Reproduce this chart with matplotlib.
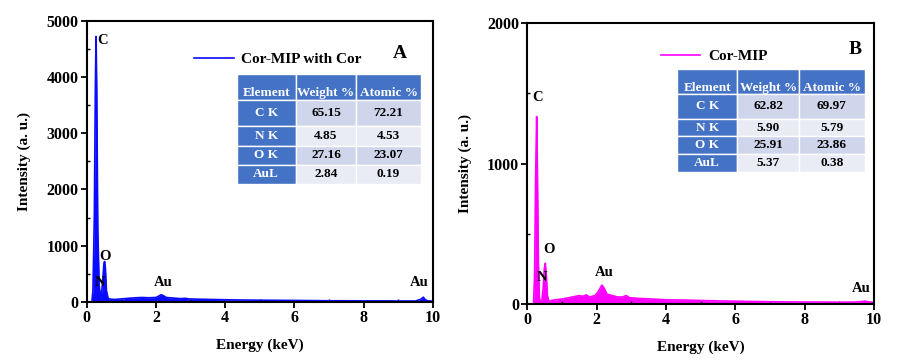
import matplotlib
matplotlib.use('Agg')
import matplotlib.pyplot as plt
from matplotlib.ticker import MultipleLocator

plt.rcParams['font.family'] = ['Liberation Serif', 'DejaVu Serif']
plt.rcParams['font.weight'] = 'bold'

# EDS spectrum, panel A (Cor-MIP with Cor)
energy_a = [0.0, 0.15, 0.18, 0.22, 0.25, 0.27, 0.29, 0.32, 0.36, 0.40, 0.43, 0.47,
            0.50, 0.52, 0.54, 0.57, 0.62, 0.70, 0.80, 1.0, 1.2, 1.4, 1.6, 1.8, 2.0,
            2.08, 2.15, 2.22, 2.3, 2.5, 2.7, 2.85, 2.95, 3.2, 3.6, 4.0, 4.5, 5.0,
            5.5, 6.0, 6.5, 7.0, 7.5, 8.0, 8.5, 9.0, 9.5, 9.65, 9.72, 9.78, 9.85, 10.0]
counts_a = [0, 0, 200, 1500, 3800, 4720, 3800, 1300, 300, 80, 150, 450,
            700, 720, 600, 200, 60, 50, 45, 55, 65, 75, 80, 75, 80,
            105, 130, 110, 80, 70, 60, 65, 55, 50, 45, 40, 35, 32,
            30, 28, 25, 22, 22, 20, 20, 18, 18, 50, 85, 40, 20, 15]

# EDS spectrum, panel B (Cor-MIP)
energy_b = [0.0, 0.15, 0.18, 0.21, 0.24, 0.27, 0.29, 0.32, 0.35, 0.39, 0.42, 0.46,
            0.49, 0.52, 0.55, 0.58, 0.63, 0.7, 0.8, 1.0, 1.2, 1.4, 1.5, 1.6, 1.7,
            1.8, 1.95, 2.05, 2.15, 2.2, 2.3, 2.45, 2.6, 2.75, 2.85, 2.95, 3.2, 3.6,
            4.0, 4.5, 5.0, 5.5, 6.0, 6.5, 7.0, 7.5, 8.0, 8.5, 9.0, 9.5, 9.75, 9.85, 10.0]
counts_b = [0, 0, 5, 200, 900, 1335, 1000, 300, 40, 10, 20, 120,
            250, 290, 200, 60, 15, 25, 30, 35, 45, 55, 60, 55, 65,
            50, 60, 90, 135, 120, 70, 60, 50, 50, 60, 45, 40, 35,
            30, 28, 25, 22, 20, 18, 16, 15, 14, 14, 13, 14, 20, 15, 12]

# peak labels: (text, energy, intensity)
peaks_a = [('C', 0.47, 4650), ('O', 0.53, 800), ('N', 0.38, 340),
           ('Au', 2.2, 355), ('Au', 9.6, 340)]
peaks_b = [('C', 0.31, 1468), ('O', 0.63, 385), ('N', 0.43, 192),
           ('Au', 2.23, 228), ('Au', 9.62, 114)]

# composition tables
table_cols = ['Element', 'Weight %', 'Atomic %']
elements = ['C K', 'N K', 'O K', 'AuL']
weight_a = ['65.15', '4.85', '27.16', '2.84']
atomic_a = ['72.21', '4.53', '23.07', '0.19']
weight_b = ['62.82', '5.90', '25.91', '5.37']
atomic_b = ['69.97', '5.79', '23.86', '0.38']

W, H = 908, 360
fig = plt.figure(figsize=(W / 100, H / 100), dpi=100)


def px_axes(l, t, r, b):
    return fig.add_axes([l / W, 1 - b / H, (r - l) / W, (b - t) / H])


def draw_table(ax, weight, atomic, box):
    rows = [[e, w, a] for e, w, a in zip(elements, weight, atomic)]
    tb = ax.table(cellText=rows, colLabels=table_cols, bbox=box,
                  colWidths=[0.32, 0.33, 0.35], cellLoc='center', colLoc='center')
    tb.auto_set_font_size(False)
    row_h = [1.4, 1.35, 1.0, 1.0, 1.0]
    fills = ['#cfd5ea', '#e9ebf5', '#cfd5ea', '#e9ebf5']
    for (r, c), cell in tb.get_celld().items():
        cell.set_edgecolor('white')
        cell.set_linewidth(1.0)
        cell.set_height(row_h[r])
        txt = cell.get_text()
        txt.set_fontsize(9.5)
        txt.set_fontweight('bold')
        if r == 0 or c == 0:
            cell.set_facecolor('#4472c4')
            txt.set_color('white')
        else:
            cell.set_facecolor(fills[r - 1])
            txt.set_color('black')
        if r == 0:
            txt.set_va('top')
    return tb


def style(ax, ymax, ystep, yminor):
    ax.set_xlim(0, 10)
    ax.set_ylim(0, ymax)
    ax.xaxis.set_major_locator(MultipleLocator(2))
    ax.xaxis.set_minor_locator(MultipleLocator(1))
    ax.yaxis.set_major_locator(MultipleLocator(ystep))
    ax.yaxis.set_minor_locator(MultipleLocator(yminor))
    ax.tick_params(which='major', direction='out', length=4, width=1.3,
                   labelsize=11.5, pad=2)
    ax.tick_params(which='minor', direction='in', length=2.5, width=1.0)
    for s in ax.spines.values():
        s.set_linewidth(1.5)
    for lab in ax.get_xticklabels() + ax.get_yticklabels():
        lab.set_fontweight('bold')
    ax.set_xlabel('Energy (keV)', fontsize=11, fontweight='bold', labelpad=9)
    ax.set_ylabel('Intensity (a. u.)', fontsize=11, fontweight='bold', labelpad=11)


# Panel A
ax1 = px_axes(86.7, 20.7, 433, 302)
ax1.fill_between(energy_a, counts_a, color='#0a0aff', lw=0)
ax1.plot(energy_a, counts_a, color='#0a0aff', lw=1.2, label='Cor-MIP with Cor')
style(ax1, 5000, 1000, 500)
for t, x, y in peaks_a:
    ax1.text(x, y, t, ha='center', va='center', fontsize=10.5, fontweight='bold')
ax1.legend(loc='upper left', bbox_to_anchor=(0.27, 0.935), frameon=False,
           handlelength=2.6, handletextpad=0.5,
           prop={'weight': 'bold', 'size': 11})
ax1.text(0.905, 0.885, 'A', transform=ax1.transAxes, ha='center', va='center',
         fontsize=14, fontweight='bold')
draw_table(ax1, weight_a, atomic_a,
           [(236.7 - 86.7) / 346.3, (302 - 184) / 281.3,
            (420.7 - 236.7) / 346.3, (184 - 73.5) / 281.3])

# Panel B
ax2 = px_axes(527.3, 23.3, 874, 304)
ax2.fill_between(energy_b, counts_b, color='#ff00ff', lw=0)
ax2.plot(energy_b, counts_b, color='#ff00ff', lw=1.2, label='Cor-MIP')
style(ax2, 2000, 1000, 500)
for t, x, y in peaks_b:
    ax2.text(x, y, t, ha='center', va='center', fontsize=10.5, fontweight='bold')
ax2.legend(loc='upper left', bbox_to_anchor=(0.345, 0.955), frameon=False,
           handlelength=2.6, handletextpad=0.5,
           prop={'weight': 'bold', 'size': 11})
ax2.text(0.945, 0.905, 'B', transform=ax2.transAxes, ha='center', va='center',
         fontsize=14, fontweight='bold')
draw_table(ax2, weight_b, atomic_b,
           [(677.3 - 527.3) / 346.7, (304 - 172.3) / 280.7,
            (864.7 - 677.3) / 346.7, (172.3 - 69.3) / 280.7])

fig.savefig('out.png', dpi=100)
